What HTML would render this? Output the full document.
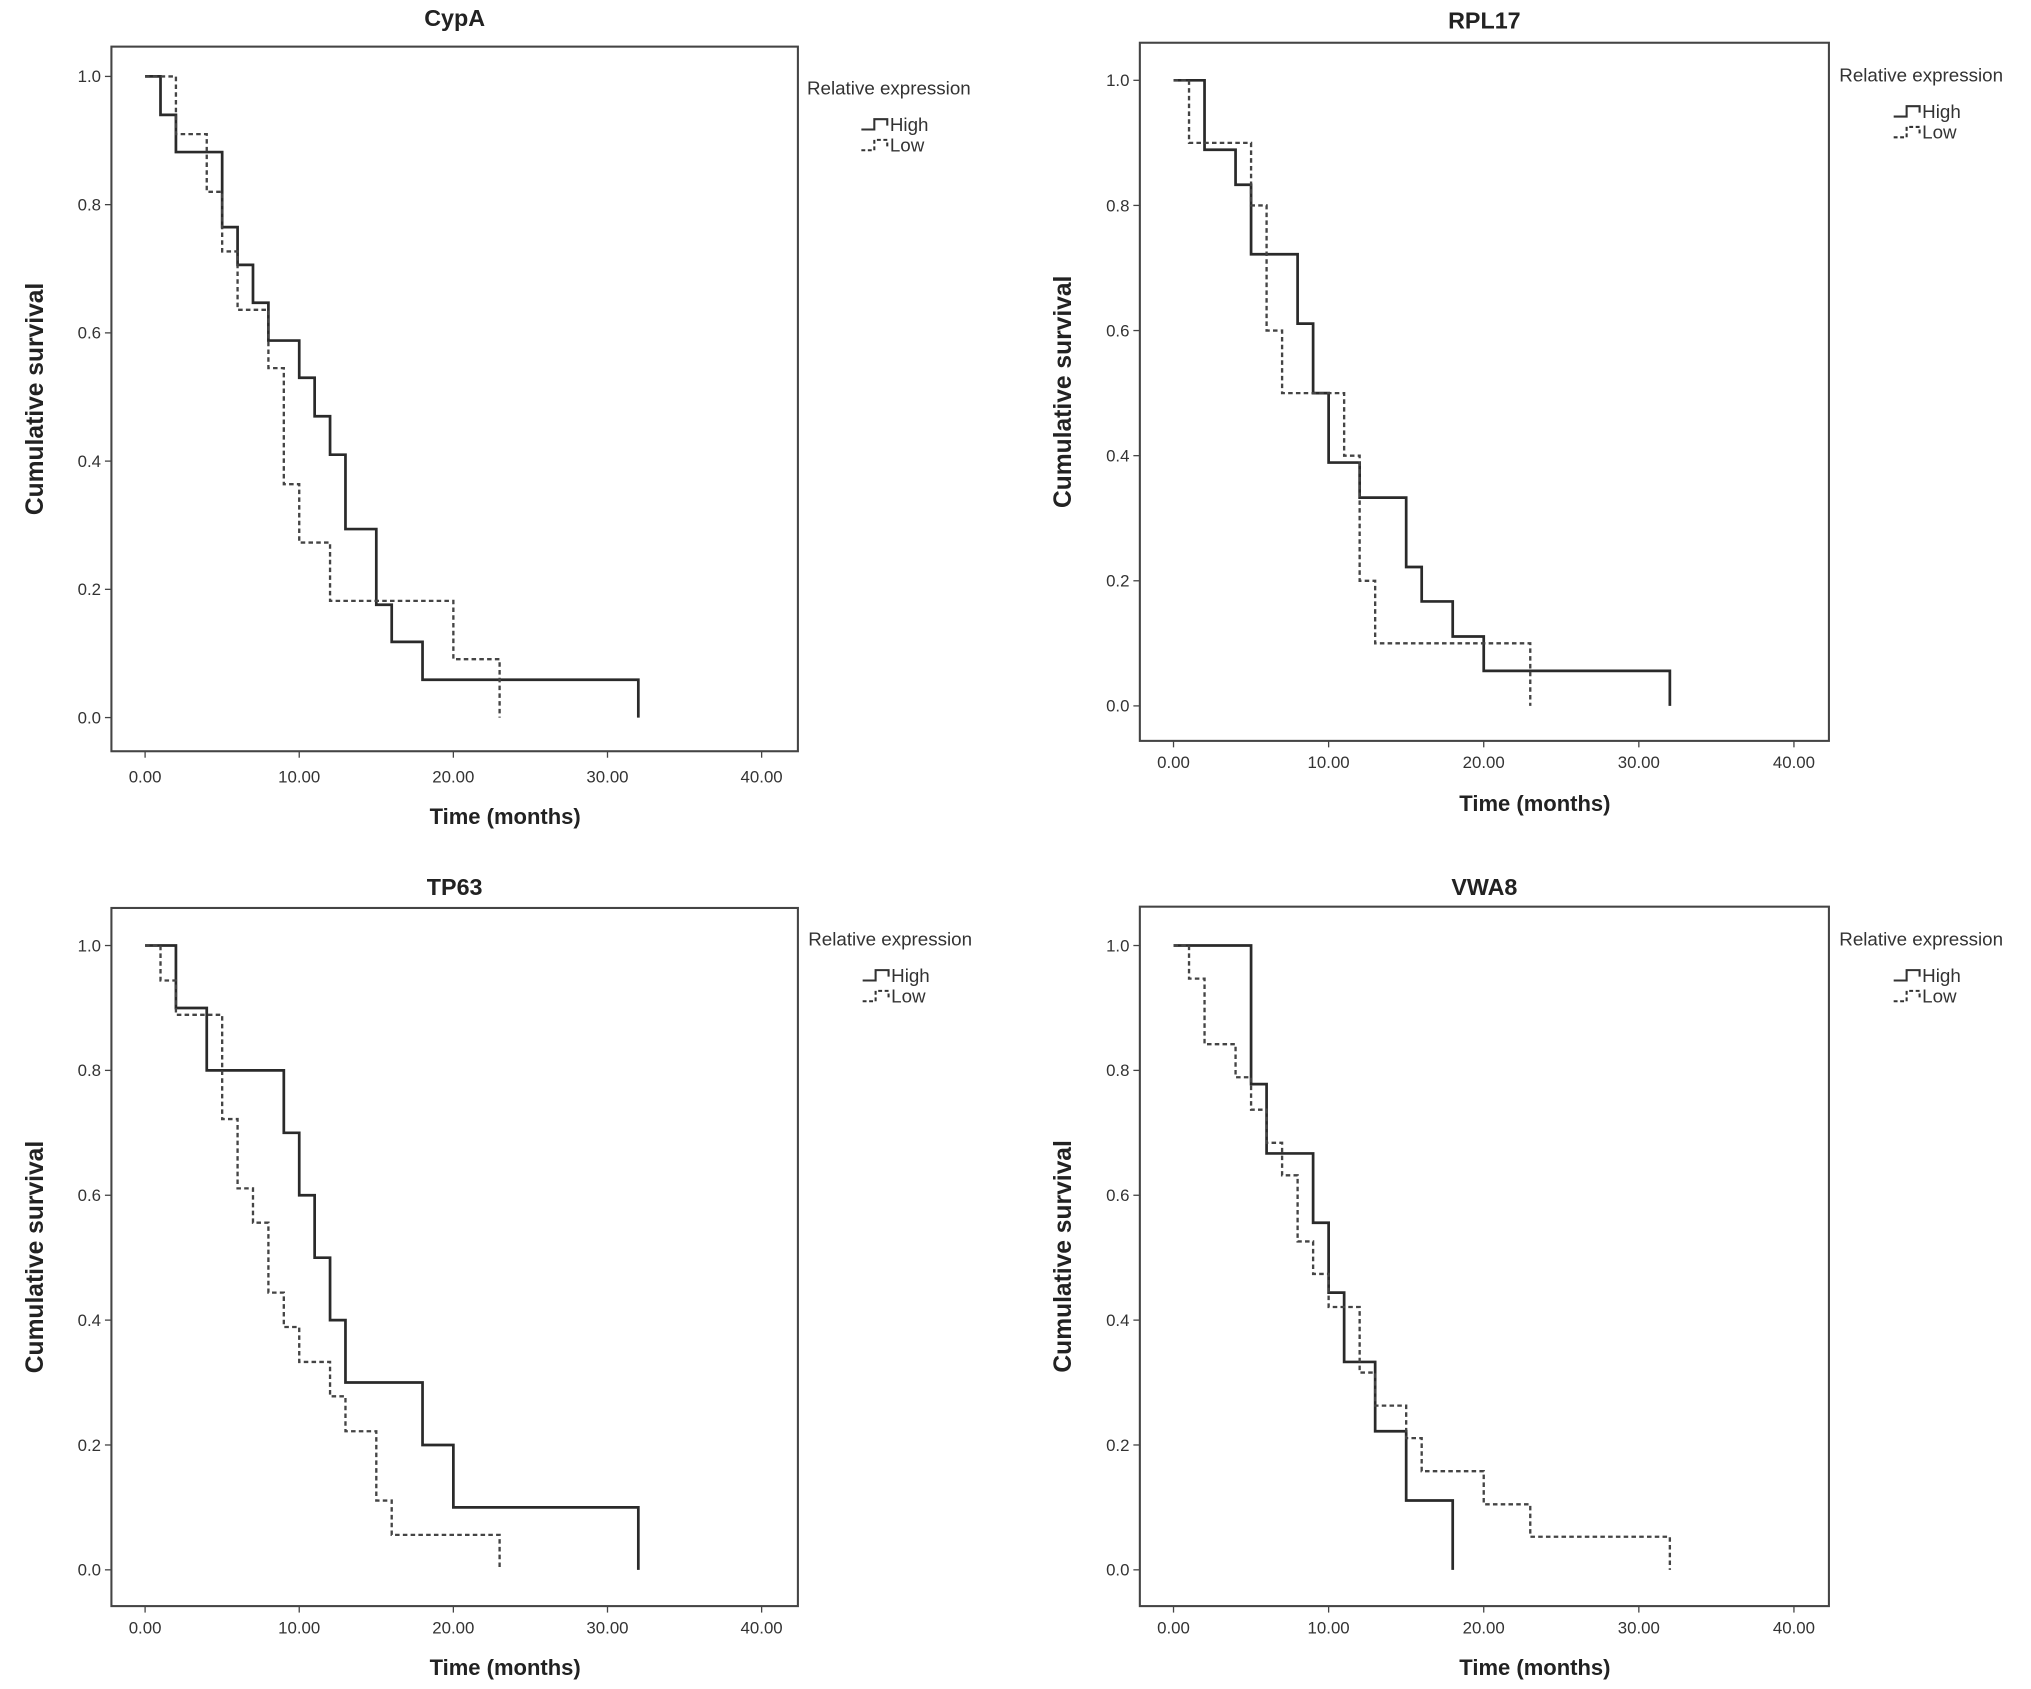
<!DOCTYPE html>
<html><head><meta charset="utf-8"><style>
html,body{margin:0;padding:0;background:#fff;}
svg{display:block;font-family:"Liberation Sans",Arial,sans-serif;}
</style></head><body>
<svg id="fig" xmlns="http://www.w3.org/2000/svg" width="2031" height="1689" viewBox="0 0 1568 1304"></svg>
<script>
const panelTitles = ["CypA","RPL17","TP63","VWA8"];
const xTicks = [0,10,20,30,40];
const xTickLabels = ["0.00","10.00","20.00","30.00","40.00"];
const yTicks = [0,0.2,0.4,0.6,0.8,1.0];
const yTickLabels = ["0.0","0.2","0.4","0.6","0.8","1.0"];
// step times and survival after each step
const cypaHighT = [1,2,5,6,7,8,10,11,12,13,15,16,18,32];
const cypaHighS = [0.94,0.882,0.765,0.706,0.647,0.588,0.53,0.47,0.41,0.294,0.176,0.118,0.059,0];
const cypaLowT = [2,4,5,6,8,9,10,12,20,23];
const cypaLowS = [0.91,0.82,0.727,0.636,0.545,0.364,0.273,0.182,0.091,0];
const rplHighT = [2,4,5,8,9,10,12,15,16,18,20,32];
const rplHighS = [0.889,0.833,0.722,0.611,0.5,0.389,0.333,0.222,0.167,0.111,0.056,0];
const rplLowT = [1,5,6,7,11,12,13,23];
const rplLowS = [0.9,0.8,0.6,0.5,0.4,0.2,0.1,0];
const tpHighT = [2,4,9,10,11,12,13,18,20,32];
const tpHighS = [0.9,0.8,0.7,0.6,0.5,0.4,0.3,0.2,0.1,0];
const tpLowT = [1,2,5,6,7,8,9,10,12,13,15,16,23];
const tpLowS = [0.944,0.889,0.722,0.611,0.556,0.444,0.389,0.333,0.278,0.222,0.111,0.056,0];
const vwaHighT = [5,6,9,10,11,13,15,18];
const vwaHighS = [0.778,0.667,0.556,0.444,0.333,0.222,0.111,0];
const vwaLowT = [1,2,4,5,6,7,8,9,10,12,13,15,16,20,23,32];
const vwaLowS = [0.947,0.842,0.789,0.737,0.684,0.632,0.526,0.474,0.421,0.316,0.263,0.211,0.158,0.105,0.053,0];

const seriesData = [
  [[cypaHighT,cypaHighS],[cypaLowT,cypaLowS]],
  [[rplHighT,rplHighS],[rplLowT,rplLowS]],
  [[tpHighT,tpHighS],[tpLowT,tpLowS]],
  [[vwaHighT,vwaHighS],[vwaLowT,vwaLowS]]
];
const layouts = [
  {bx0:86,bx1:616,by0:36,by1:580,x0:112,x40:588,y1:59,y0:554,titleY:20,legX:623,legY:73,xtY:604,xtitleY:636,xtitleX:390,ytitleX:33},
  {bx0:880,bx1:1412,by0:33,by1:572,x0:906,x40:1385,y1:62,y0:545,titleY:22,legX:1420,legY:63,xtY:593,xtitleY:626,xtitleX:1185,ytitleX:827},
  {bx0:86,bx1:616,by0:701,by1:1240,x0:112,x40:588,y1:730,y0:1212,titleY:691,legX:624,legY:730,xtY:1261,xtitleY:1293,xtitleX:390,ytitleX:33},
  {bx0:880,bx1:1412,by0:700,by1:1240,x0:906,x40:1385,y1:730,y0:1212,titleY:691,legX:1420,legY:730,xtY:1261,xtitleY:1293,xtitleX:1185,ytitleX:827}
];
const NS="http://www.w3.org/2000/svg";
const svg=document.getElementById('fig');
function mk(tag,attrs,parent,text){const e=document.createElementNS(NS,tag);for(const k in attrs)e.setAttribute(k,attrs[k]);if(text!==undefined)e.textContent=text;parent.appendChild(e);return e;}
const slugs=["cypa","rpl17","tp63","vwa8"];
layouts.forEach((L,i)=>{
  const g=mk('g',{},svg);
  
  
  const sx=t=>L.x0+(L.x40-L.x0)*t/40;
  const sy=v=>L.y0+(L.y1-L.y0)*v;
  const box=mk('rect',{x:L.bx0,y:L.by0,width:L.bx1-L.bx0,height:L.by1-L.by0,fill:'none',stroke:'#444','stroke-width':1.6},g);
  
  
  const ti=mk('text',{x:(L.bx0+L.bx1)/2,y:L.titleY,'text-anchor':'middle','font-size':18,'font-weight':'bold',fill:'#222'},g,panelTitles[i]);
  
  
  yTicks.forEach((v,k)=>{
    mk('line',{x1:L.bx0-5,x2:L.bx0,y1:sy(v),y2:sy(v),stroke:'#444','stroke-width':1},g);
    const t=mk('text',{x:L.bx0-8,y:sy(v)+4.5,'text-anchor':'end','font-size':13,fill:'#333'},g,yTickLabels[k]);
    
    
  });
  xTicks.forEach((v,k)=>{
    mk('line',{x1:sx(v),x2:sx(v),y1:L.by1,y2:L.by1+5,stroke:'#444','stroke-width':1},g);
    const t=mk('text',{x:sx(v),y:L.xtY,'text-anchor':'middle','font-size':13,fill:'#333'},g,xTickLabels[k]);
    
    
  });
  const xt=mk('text',{x:L.xtitleX,y:L.xtitleY,'text-anchor':'middle','font-size':17,'font-weight':'bold',fill:'#222'},g,'Time (months)');
  
  
  const cy=(L.by0+L.by1)/2;
  const yt=mk('text',{x:L.ytitleX,y:cy,'text-anchor':'middle','font-size':19,'font-weight':'bold',fill:'#222',transform:`rotate(-90 ${L.ytitleX} ${cy})`},g,'Cumulative survival');
  
  
  seriesData[i].forEach((s,j)=>{
    const T=s[0],S=s[1];
    let d=`M${sx(0)},${sy(1)}`;
    T.forEach((t,k)=>{d+=` H${sx(t)} V${sy(S[k])}`;});
    const p=mk('path',{d:d,fill:'none',stroke:j?'#444':'#2a2a2a','stroke-width':j?1.8:2.1,'stroke-dasharray':j?'3.5,2.5':'none'},g);
    
    
  });
  const lg=mk('g',{},g);
  
  
  mk('text',{x:L.legX,y:L.legY,'font-size':14.5,fill:'#333'},lg,'Relative expression');
  const lx=L.legX+42;
  [['High',27,'none'],['Low',43,'3,2']].forEach(([lab,dy,da])=>{
    const yy=L.legY+dy;
    mk('path',{d:`M${lx},${yy} H${lx+10} V${yy-8} H${lx+20} V${yy-3}`,fill:'none',stroke:'#333','stroke-width':1.6,'stroke-dasharray':da},lg);
    const t=mk('text',{x:lx+22,y:yy+1,'font-size':14.5,fill:'#333'},lg,lab);
    
    
  });
});
</script>
</body></html>
